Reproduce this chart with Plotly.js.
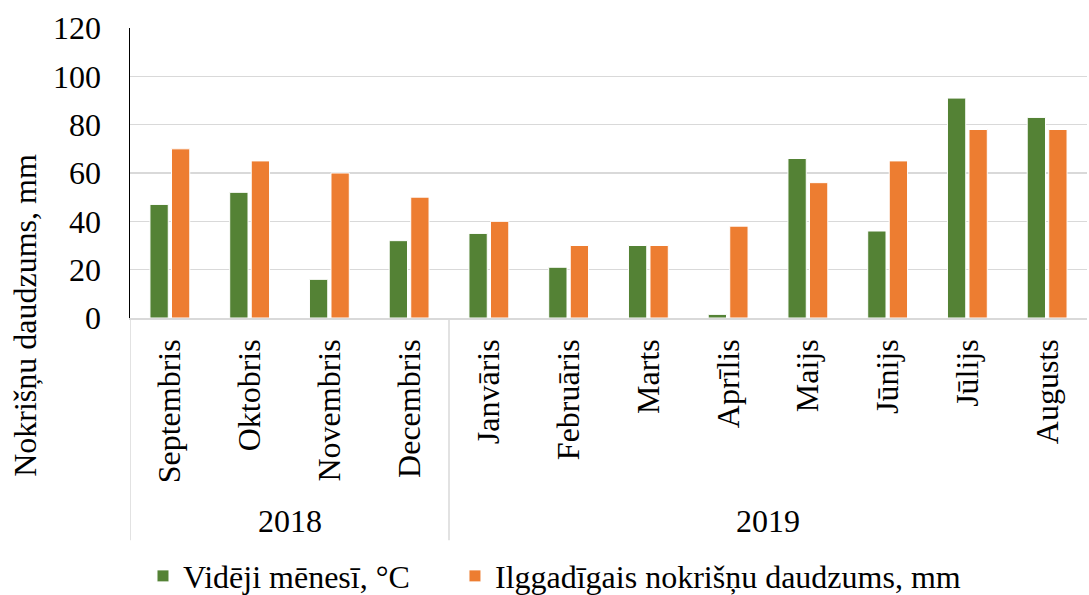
<!DOCTYPE html>
<html>
<head>
<meta charset="utf-8">
<script src="https://cdn.plot.ly/plotly-3.0.1.min.js"></script>
<style>html,body{margin:0;padding:0;background:#fff;}#chart{width:1089px;height:595px;}</style>
</head>
<body>
<div id="chart"></div>
<script>
const months = ["Septembris","Oktobris","Novembris","Decembris","Janvāris","Februāris","Marts","Aprīlis","Maijs","Jūnijs","Jūlijs","Augusts"];
const years = ["2018","2019"];
const yearSpans = [[0,3],[4,11]];
const temperature = [47,52,16,32,35,21,30,1.5,66,36,91,83];
const precipitation = [70,65,60,50,40,30,30,38,56,65,78,78];
const seriesNames = ["Vidēji mēnesī, °C","Ilggadīgais nokrišņu daudzums, mm"];
const yTicks = [0,20,40,60,80,100,120];

const font = {family:"Liberation Serif, Times New Roman, serif", size:32, color:"#000"};
const idx = months.map((m,i)=>i);

const traces = [
  {type:"bar", x:idx, y:temperature, name:seriesNames[0], legend:"legend",
   marker:{color:"#548235", line:{color:"#ffffff", width:1}}},
  {type:"bar", x:idx, y:precipitation, name:seriesNames[1], legend:"legend2",
   marker:{color:"#ED7D31", line:{color:"#ffffff", width:1}}}
];

const annotations = years.map((y,i)=>({
  text:y, xref:"x", yref:"paper", x:(yearSpans[i][0]+yearSpans[i][1])/2, y:-0.70,
  showarrow:false, font:font, xanchor:"center", yanchor:"middle"
}));
annotations.push({
  text:"Nokrišņu daudzums, mm", xref:"paper", yref:"paper", x:-0.11, y:0.01,
  textangle:-90, showarrow:false, font:font, xanchor:"center", yanchor:"middle"
});

const bounds = [-0.5, 3.5];
const shapes = bounds.map(b=>({
  type:"line", xref:"x", yref:"paper", x0:b, x1:b, y0:0, y1:-0.766,
  line:{color:"#d9d9d9", width:1.5}
}));

const legendBase = {orientation:"h", xref:"container", yref:"container", xanchor:"left", y:0.078, yanchor:"top",
                    font:font, itemwidth:30, bgcolor:"rgba(0,0,0,0)"};

const layout = {
  width:1089, height:595,
  margin:{l:130, r:2, t:28, b:277},
  paper_bgcolor:"#fff", plot_bgcolor:"#fff",
  font:font,
  barmode:"group", bargap:0.46, bargroupgap:0.15,
  showlegend:true,
  legend:Object.assign({}, legendBase, {x:0.1313}),
  legend2:Object.assign({}, legendBase, {x:0.4178}),
  xaxis:{
    tickmode:"array", tickvals:idx, ticktext:months, tickangle:-90,
    range:[-0.5, 11.5], showgrid:false, zeroline:false,
    showline:true, linecolor:"#d9d9d9", linewidth:1.5,
    ticks:"outside", ticklen:7, tickcolor:"rgba(0,0,0,0)", tickfont:font
  },
  yaxis:{
    range:[0,120], tickmode:"array", tickvals:yTicks, ticktext:yTicks.map(String),
    showgrid:true, gridcolor:"#d9d9d9", gridwidth:1.5, zeroline:false,
    showline:true, linecolor:"#000", linewidth:1.5,
    ticks:"outside", ticklen:21, tickcolor:"rgba(0,0,0,0)", tickfont:font
  },
  annotations:annotations,
  shapes:shapes
};

Plotly.newPlot("chart", traces, layout, {displayModeBar:false, staticPlot:true});
</script>
</body>
</html>
